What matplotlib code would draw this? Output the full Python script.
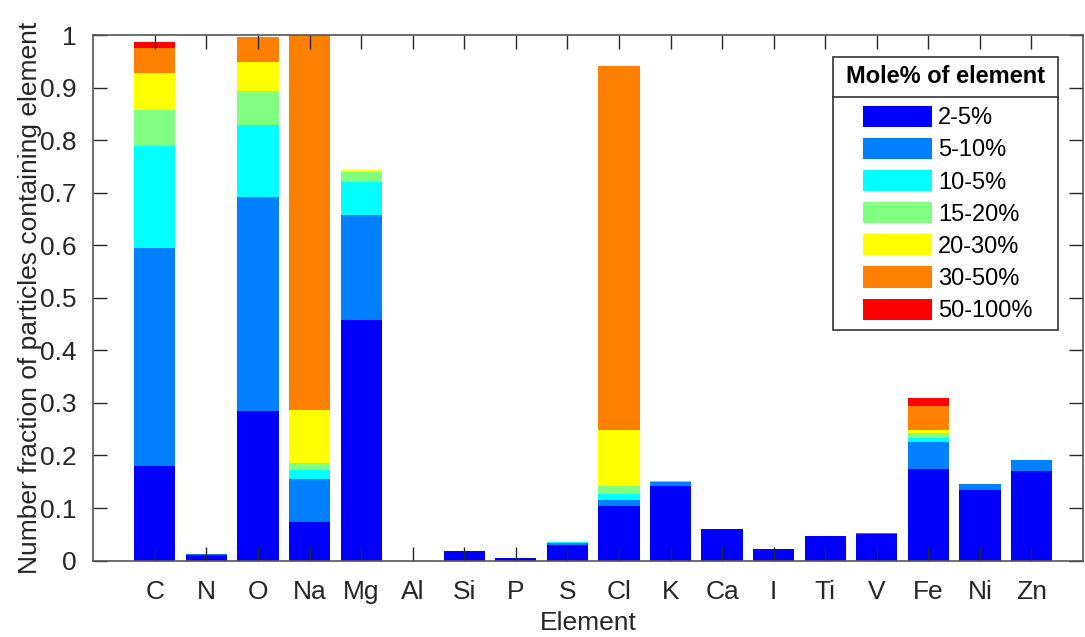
import matplotlib.pyplot as plt
import numpy as np
from matplotlib.patches import Patch, Rectangle
from matplotlib.lines import Line2D
from matplotlib.legend_handler import HandlerPatch

elements = ["C", "N", "O", "Na", "Mg", "Al", "Si", "P", "S", "Cl",
            "K", "Ca", "I", "Ti", "V", "Fe", "Ni", "Zn"]
bins = ["2-5%", "5-10%", "10-5%", "15-20%", "20-30%", "30-50%", "50-100%"]
colors = ["#0000ff", "#0080ff", "#00ffff", "#80ff80", "#ffff00", "#ff8000", "#ff0000"]

# fraction of particles in each mole% bin, one list per bin (order = elements)
frac_2_5 = [0.180, 0.010, 0.285, 0.073, 0.457, 0.0, 0.018, 0.005, 0.030, 0.104,
            0.142, 0.060, 0.022, 0.046, 0.050, 0.175, 0.135, 0.171]
frac_5_10 = [0.414, 0.003, 0.407, 0.082, 0.201, 0.0, 0.0, 0.0, 0.004, 0.012,
             0.007, 0.0, 0.0, 0.0, 0.002, 0.051, 0.010, 0.020]
frac_10_15 = [0.195, 0.0, 0.137, 0.018, 0.063, 0.0, 0.0, 0.0, 0.001, 0.011,
              0.002, 0.0, 0.0, 0.0, 0.0, 0.008, 0.0, 0.001]
frac_15_20 = [0.069, 0.0, 0.064, 0.013, 0.019, 0.0, 0.0, 0.0, 0.0, 0.015,
              0.0, 0.0, 0.0, 0.0, 0.0, 0.009, 0.0, 0.0]
frac_20_30 = [0.070, 0.0, 0.056, 0.100, 0.004, 0.0, 0.0, 0.0, 0.0, 0.106,
              0.0, 0.0, 0.0, 0.0, 0.0, 0.006, 0.0, 0.0]
frac_30_50 = [0.047, 0.0, 0.047, 0.714, 0.0, 0.0, 0.0, 0.0, 0.0, 0.693,
              0.0, 0.0, 0.0, 0.0, 0.0, 0.045, 0.0, 0.0]
frac_50_100 = [0.011, 0.0, 0.0, 0.0, 0.0, 0.0, 0.0, 0.0, 0.0, 0.0,
               0.0, 0.0, 0.0, 0.0, 0.0, 0.015, 0.0, 0.0]


def shifted_patch(legend, orig_handle, xdescent, ydescent, width, height, fontsize):
    # leave a gap on the left of each legend swatch, like the MATLAB legend
    gap = 16
    return Rectangle((-xdescent + gap, -ydescent), width - gap, height)


def main():
    plt.rcParams['font.family'] = ['Liberation Sans', 'DejaVu Sans']
    series = [frac_2_5, frac_5_10, frac_10_15, frac_15_20,
              frac_20_30, frac_30_50, frac_50_100]
    fs = 19
    lfs = 17

    fig = plt.figure(figsize=(10.85, 6.37), dpi=100)
    ax = fig.add_axes([0.0857, 0.120, 0.9125, 0.825])

    x = np.arange(1, len(elements) + 1)
    bottom = np.zeros(len(elements))
    for vals, c in zip(series, colors):
        vals = np.array(vals)
        ax.bar(x, vals, width=0.8, bottom=bottom, color=c, edgecolor='none')
        bottom += vals

    ax.set_xlim(-0.2, 19)
    ax.set_ylim(0, 1)
    ax.set_xticks(x)
    ax.set_xticklabels(elements)
    ax.set_yticks(np.arange(0, 1.01, 0.1))
    ax.set_yticklabels(["0", "0.1", "0.2", "0.3", "0.4", "0.5",
                        "0.6", "0.7", "0.8", "0.9", "1"])

    tc = "#262626"
    ax.tick_params(axis='both', direction='in', length=10, width=1, top=True,
                   right=True, labelsize=fs, colors=tc)
    ax.tick_params(axis='y', pad=12)
    ax.tick_params(axis='x', pad=14)
    for s in ax.spines.values():
        s.set_color("#555555")
        s.set_linewidth(1.2)
    ax.set_xlabel("Element", fontsize=fs, color=tc, labelpad=5)
    ax.set_ylabel("Number fraction of particles containing element",
                  fontsize=fs, color=tc, labelpad=-2)

    # legend box with title and separator line
    handles = [Patch(facecolor=c, edgecolor='none') for c in colors]
    x0, y0 = 833 / 1085, 1 - 57 / 637
    w, h = (1058 - 833) / 1085, (328 - 57) / 637
    leg = ax.legend(handles, bins, title="Mole% of element",
                    title_fontproperties={'weight': 'bold', 'size': lfs},
                    loc='upper left', bbox_to_anchor=(x0, y0 - h, w, h),
                    bbox_transform=fig.transFigure, mode='expand',
                    borderaxespad=0, fontsize=lfs, handlelength=91 / 23.6,
                    handleheight=1.0, labelspacing=0.36, handletextpad=0.25,
                    borderpad=0.35, fancybox=False, framealpha=1,
                    handler_map={Patch: HandlerPatch(patch_func=shifted_patch)})
    leg._legend_box.sep = 0.36 * lfs * 100 / 72 + 4
    leg.get_frame().set_edgecolor("#333333")
    leg.get_frame().set_linewidth(1.2)
    fig.add_artist(Line2D([x0, x0 + w], [1 - 97 / 637, 1 - 97 / 637],
                          transform=fig.transFigure, color="#333333", lw=1.2))

    fig.savefig("out.png", dpi=100)


if __name__ == "__main__":
    main()
